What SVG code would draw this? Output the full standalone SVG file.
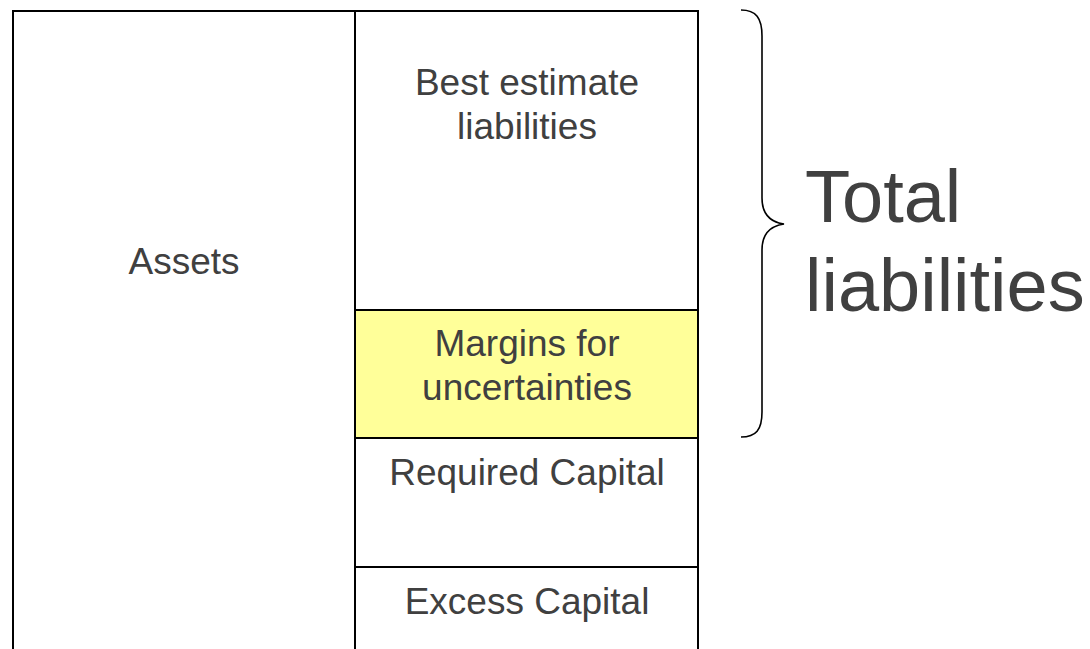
<svg xmlns="http://www.w3.org/2000/svg" width="1090" height="649" viewBox="0 0 1090 649">
  <style>
    .box { fill: #ffffff; stroke: #000000; stroke-width: 2; }
    .margin { fill: #ffff99; }
    .lbl { font-family: "Liberation Sans", Arial, sans-serif; font-size: 37px; fill: #404040; text-anchor: middle; }
    .big { font-family: "Liberation Sans", Arial, sans-serif; font-size: 74px; fill: #404040; }
    .brace { fill: none; stroke: #000000; stroke-width: 1.6; }
  </style>
  <rect width="1090" height="649" fill="#ffffff"/>

  <g id="assets">
    <rect class="box" x="13" y="11" width="342" height="660"/>
    <text class="lbl" x="184" y="274">Assets</text>
  </g>

  <g id="best-estimate">
    <rect class="box" x="355" y="11" width="343" height="299"/>
    <text class="lbl" x="527" y="95">Best estimate</text>
    <text class="lbl" x="527" y="139">liabilities</text>
  </g>

  <g id="margins">
    <rect class="box margin" x="355" y="310" width="343" height="128"/>
    <text class="lbl" x="527" y="356">Margins for</text>
    <text class="lbl" x="527" y="400">uncertainties</text>
  </g>

  <g id="required-capital">
    <rect class="box" x="355" y="438" width="343" height="129"/>
    <text class="lbl" x="527" y="485">Required Capital</text>
  </g>

  <g id="excess-capital">
    <rect class="box" x="355" y="567" width="343" height="110"/>
    <text class="lbl" x="527" y="614">Excess Capital</text>
  </g>

  <g id="connectors">
    <path class="brace" d="M741,10 C756,10 762,18 762,36 L762,198 C762,214 770,222 784,224 C770,226 762,234 762,250 L762,412 C762,430 756,437 741,437"/>
  </g>

  <g id="total-liabilities">
    <text class="big" x="805" y="222">Total</text>
    <text class="big" x="805" y="311">liabilities</text>
  </g>
</svg>
